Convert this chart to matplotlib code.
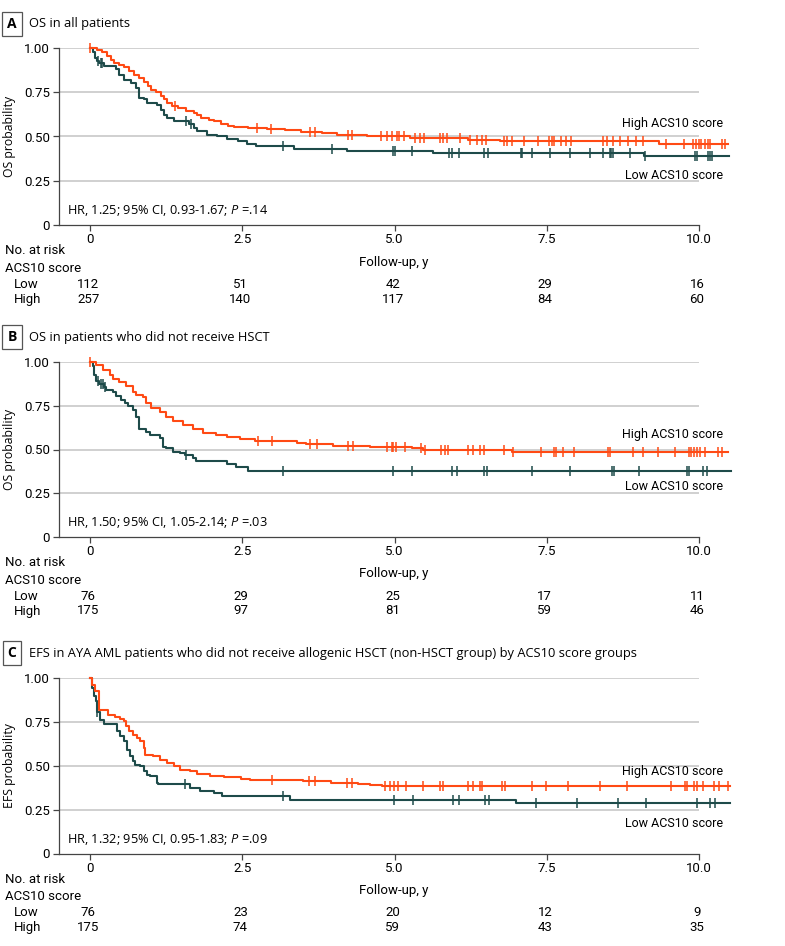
import numpy as np
import matplotlib
matplotlib.use("Agg")
import matplotlib.pyplot as plt

# ---- data (event times in years, survival after the step) ----
a_high_t = [0.12, 0.2, 0.28, 0.34, 0.39, 0.47, 0.56, 0.64, 0.72, 0.8, 0.89, 0.95, 1.0, 1.08, 1.16,
            1.22, 1.27, 1.35, 1.45, 1.57, 1.71, 1.76, 1.82, 1.95, 2.04, 2.15, 2.26, 2.37, 2.6, 2.9,
            3.2, 3.46, 3.8, 4.06, 4.55, 4.75, 5.26, 6.21, 6.73, 9.35]
a_high_s = [0.99, 0.975, 0.955, 0.935, 0.917, 0.905, 0.89, 0.87, 0.85, 0.83, 0.81, 0.785, 0.765, 0.75,
            0.73, 0.71, 0.69, 0.675, 0.66, 0.643, 0.634, 0.62, 0.605, 0.595, 0.587, 0.572, 0.558, 0.553,
            0.547, 0.54, 0.535, 0.528, 0.52, 0.51, 0.505, 0.5, 0.492, 0.483, 0.474, 0.459]
a_high_cens = [0, 1.4, 2.74, 2.97, 3.61, 3.7, 4.23, 4.3, 4.77, 4.88, 4.96, 5.04, 5.07, 5.15, 5.34, 5.42,
               5.48, 5.75, 5.8, 5.86, 6.08, 6.24, 6.35, 6.43, 6.5, 6.8, 6.85, 6.92, 7.12, 7.36, 7.54,
               7.58, 7.62, 7.74, 7.81, 7.89, 8.43, 8.48, 8.59, 8.7, 8.84, 8.97, 9.08, 9.45, 9.75, 9.9,
               9.95, 10.0, 10.04, 10.09, 10.14, 10.18, 10.37, 10.42]
a_high_end = 10.48
a_low_t = [0.04, 0.08, 0.12, 0.15, 0.23, 0.42, 0.48, 0.56, 0.67, 0.75, 0.8, 0.89, 0.94, 1.1, 1.16, 1.21,
           1.27, 1.38, 1.62, 1.7, 1.76, 1.92, 2.09, 2.25, 2.42, 2.58, 2.72, 3.35, 4.22, 5.63, 9.1]
a_low_s = [0.975, 0.945, 0.926, 0.917, 0.898, 0.879, 0.85, 0.82, 0.8, 0.775, 0.72, 0.71, 0.69, 0.68,
           0.652, 0.623, 0.605, 0.587, 0.568, 0.549, 0.53, 0.511, 0.502, 0.487, 0.474, 0.46, 0.445,
           0.43, 0.417, 0.408, 0.389]
a_low_cens = [0.13, 0.17, 0.2, 1.57, 1.65, 3.17, 3.97, 4.98, 5.0, 5.29, 5.89, 5.94, 6.06, 6.47, 6.54,
              7.07, 7.1, 7.25, 7.56, 7.88, 8.21, 8.42, 8.53, 8.56, 8.58, 8.86, 9.11, 9.93, 9.96, 10.15,
              10.18, 10.22]
a_low_end = 10.49

b_high_t = [0.1, 0.21, 0.32, 0.37, 0.48, 0.59, 0.7, 0.76, 0.87, 0.92, 1.0, 1.14, 1.25, 1.36, 1.52, 1.69,
            1.85, 2.07, 2.24, 2.46, 2.7, 3.39, 3.55, 3.99, 4.6, 5.28, 5.47, 6.92]
b_high_s = [0.985, 0.956, 0.927, 0.9, 0.883, 0.86, 0.83, 0.81, 0.8, 0.765, 0.736, 0.717, 0.688, 0.66,
            0.64, 0.62, 0.593, 0.583, 0.57, 0.558, 0.55, 0.539, 0.532, 0.522, 0.515, 0.506, 0.496, 0.487]
b_high_cens = [0, 2.76, 2.99, 3.61, 3.72, 4.24, 4.32, 4.87, 4.95, 4.98, 5.03, 5.17, 5.44, 5.5, 5.77,
               5.83, 5.88, 6.21, 6.29, 6.4, 6.46, 6.79, 6.95, 7.4, 7.62, 7.65, 7.77, 7.95, 8.51, 8.54,
               8.92, 9.08, 9.33, 9.61, 9.83, 9.86, 9.92, 9.97, 10.02, 10.1, 10.31, 10.38]
b_high_end = 10.47
b_low_t = [0.04, 0.07, 0.1, 0.15, 0.22, 0.26, 0.37, 0.43, 0.51, 0.57, 0.62, 0.7, 0.76, 0.81, 0.92, 0.98,
           1.14, 1.2, 1.25, 1.36, 1.47, 1.55, 1.69, 1.74, 2.24, 2.4, 2.59]
b_low_s = [0.975, 0.927, 0.889, 0.875, 0.855, 0.841, 0.826, 0.803, 0.784, 0.765, 0.75, 0.727, 0.688,
           0.616, 0.602, 0.583, 0.564, 0.516, 0.507, 0.488, 0.478, 0.468, 0.449, 0.436, 0.42, 0.4, 0.379]
b_low_cens = [0.13, 0.18, 0.21, 0.25, 1.58, 3.17, 4.98, 5.28, 5.94, 6.02, 6.46, 6.51, 7.25, 7.88, 8.57,
              8.6, 9.01, 9.8, 9.83, 10.06, 10.13]
b_low_end = 10.53

c_high_t = [0.03, 0.08, 0.14, 0.15, 0.3, 0.41, 0.49, 0.55, 0.59, 0.63, 0.71, 0.77, 0.82, 0.88, 0.9, 1.04,
            1.15, 1.26, 1.37, 1.48, 1.64, 1.75, 1.97, 2.19, 2.47, 2.63, 3.2, 3.5, 3.95, 4.4, 4.6, 4.8, 5.1]
c_high_s = [0.962, 0.924, 0.886, 0.82, 0.79, 0.778, 0.766, 0.753, 0.724, 0.696, 0.677, 0.658, 0.639, 0.6,
            0.563, 0.553, 0.534, 0.515, 0.496, 0.477, 0.468, 0.454, 0.443, 0.435, 0.424, 0.42, 0.416,
            0.411, 0.401, 0.397, 0.39, 0.386, 0.382]
c_high_cens = [2.99, 3.59, 3.7, 4.22, 4.3, 4.85, 4.93, 4.99, 5.05, 5.19, 5.47, 5.74, 5.8, 6.21, 6.29, 6.4,
               6.44, 6.76, 6.81, 7.26, 7.48, 7.84, 8.38, 8.82, 9.54, 9.77, 9.81, 9.92, 9.96, 10.07,
               10.25, 10.33, 10.47]
c_high_end = 10.51
c_low_t = [0.03, 0.07, 0.1, 0.11, 0.16, 0.22, 0.44, 0.49, 0.55, 0.6, 0.66, 0.71, 0.74, 0.82, 0.88, 0.93,
           0.99, 1.1, 1.12, 1.64, 1.81, 2.03, 2.17, 3.29, 7.0]
c_low_s = [0.943, 0.895, 0.867, 0.804, 0.762, 0.74, 0.696, 0.667, 0.639, 0.59, 0.553, 0.525, 0.506,
           0.496, 0.468, 0.449, 0.439, 0.401, 0.397, 0.373, 0.354, 0.344, 0.329, 0.306, 0.286]
c_low_cens = [0.11, 1.56, 3.17, 4.99, 5.3, 5.96, 6.05, 6.48, 6.55, 7.33, 7.99, 8.67, 9.13, 9.96, 10.18,
              10.26]
c_low_end = 10.5

risk_times = [0, 2.5, 5.0, 7.5, 10.0]
a_risk_low = [112, 51, 42, 29, 16]
a_risk_high = [257, 140, 117, 84, 60]
b_risk_low = [76, 29, 25, 17, 11]
b_risk_high = [175, 97, 81, 59, 46]
c_risk_low = [76, 23, 20, 12, 9]
c_risk_high = [175, 74, 59, 43, 35]

titles = ["OS in all patients",
          "OS in patients who did not receive HSCT",
          "EFS in AYA AML patients who did not receive allogenic HSCT (non-HSCT group) by ACS10 score groups"]
letters = ["A", "B", "C"]
ylabels = ["OS probability", "OS probability", "EFS probability"]
hr_texts = [r"HR, 1.25; 95% CI, 0.93-1.67; $\it{P}$ =.14",
            r"HR, 1.50; 95% CI, 1.05-2.14; $\it{P}$ =.03",
            r"HR, 1.32; 95% CI, 0.95-1.83; $\it{P}$ =.09"]
label_y = [(0.575, 0.28), (0.585, 0.29), (0.465, 0.17)]

HIGH = "#FF4A14"
LOW = "#1E4B4A"
GRID = "#C4C4C4"
AXC = "#444444"

narrow = dict(family=["Roboto", "DejaVu Sans"])
plain = dict(family=["Open Sans", "DejaVu Sans"])
NS = 9.5

plt.rcParams["mathtext.fontset"] = "custom"
plt.rcParams["mathtext.it"] = "Open Sans:italic"
plt.rcParams["mathtext.rm"] = "Open Sans"

W, H = 785, 946
fig = plt.figure(figsize=(W / 100, H / 100), dpi=100)

# pixel geometry of the three panels: (axis bottom y, axis top y, title y)
panels = [(225, 48, 24), (537, 362, 337), (853.5, 678, 653)]
x_left, x_right = 58.5, 729.5
t_min, t_max = -0.52, 10.5


def kaplan(ax, t, s, cens, end, color):
    tt = np.concatenate([[0.0], t, [end]])
    ss = np.concatenate([[1.0], s, [s[-1]]])
    ax.step(tt, ss, where="post", color=color, lw=1.5, clip_on=False, zorder=3)
    idx = np.searchsorted(tt, cens, side="right") - 1
    ax.plot(cens, ss[idx], ls="none", marker="|", ms=7, mew=1.1, color=color,
            clip_on=False, zorder=4)


data = [
    (a_high_t, a_high_s, a_high_cens, a_high_end, a_low_t, a_low_s, a_low_cens, a_low_end,
     a_risk_low, a_risk_high),
    (b_high_t, b_high_s, b_high_cens, b_high_end, b_low_t, b_low_s, b_low_cens, b_low_end,
     b_risk_low, b_risk_high),
    (c_high_t, c_high_s, c_high_cens, c_high_end, c_low_t, c_low_s, c_low_cens, c_low_end,
     c_risk_low, c_risk_high),
]

for i, (bot, top, ty) in enumerate(panels):
    ht, hs, hc, he, lt, ls_, lc, le, rl, rh = data[i]
    ax = fig.add_axes([x_left / W, 1 - bot / H, (x_right - x_left) / W, (bot - top) / H])
    ax.set_xlim(t_min, t_max)
    ax.set_ylim(0, 1)
    for sp in ["top", "right"]:
        ax.spines[sp].set_visible(False)
    for sp in ["left", "bottom"]:
        ax.spines[sp].set_color(AXC)
        ax.spines[sp].set_linewidth(0.9)
    ax.spines["bottom"].set_bounds(t_min, 10.0)
    ax.hlines([0.25, 0.5, 0.75, 1.0], t_min, 10.0, color=GRID, lw=1.1, zorder=1)
    ax.set_yticks([0, 0.25, 0.5, 0.75, 1.0])
    ax.set_yticklabels(["0", "0.25", "0.50", "0.75", "1.00"])
    ax.set_xticks(risk_times)
    ax.set_xticklabels(["0", "2.5", "5.0", "7.5", "10.0"])
    ax.tick_params(colors=AXC, length=4, width=0.9, labelcolor="black", labelsize=NS, pad=2)
    for lab in ax.get_xticklabels() + ax.get_yticklabels():
        lab.set_family(narrow["family"])
    ax.set_ylabel(ylabels[i], fontsize=8.8, labelpad=6, **plain)

    kaplan(ax, lt, ls_, lc, le, LOW)
    kaplan(ax, ht, hs, hc, he, HIGH)

    hy, ly = label_y[i]
    ax.text(10.39, hy, "High ACS10 score", ha="right", va="center", fontsize=9, **narrow)
    ax.text(10.39, ly, "Low ACS10 score", ha="right", va="center", fontsize=9, **narrow)
    ax.text(-0.38, 0.08, hr_texts[i], ha="left", va="center", fontsize=9.2, **plain)

    # panel title with boxed letter
    fig.text(12 / W, 1 - ty / H, letters[i], ha="center", va="center", fontsize=10,
             fontweight="bold", bbox=dict(boxstyle="square,pad=0.35", fc="white", ec="#555555", lw=0.9),
             **plain)
    fig.text(29 / W, 1 - ty / H, titles[i], ha="left", va="center", fontsize=9.3, **plain)

    # risk table
    def yy(dy):
        return 1 - (bot + dy) / H
    fig.text(5 / W, yy(26), "No. at risk", ha="left", va="center", fontsize=NS, **narrow)
    fig.text(5 / W, yy(43), "ACS10 score", ha="left", va="center", fontsize=NS, **narrow)
    fig.text(394 / W, yy(37), "Follow-up, y", ha="center", va="center", fontsize=NS, **narrow)
    fig.text(14 / W, yy(59), "Low", ha="left", va="center", fontsize=NS, **narrow)
    fig.text(14 / W, yy(74), "High", ha="left", va="center", fontsize=NS, **narrow)
    for t, nl, nh in zip(risk_times, rl, rh):
        xf = (x_left + (t - t_min) / (t_max - t_min) * (x_right - x_left) - 2) / W
        fig.text(xf, yy(59), str(nl), ha="center", va="center", fontsize=NS, **narrow)
        fig.text(xf, yy(74), str(nh), ha="center", va="center", fontsize=NS, **narrow)

fig.savefig("out.png", dpi=100, facecolor="white")
